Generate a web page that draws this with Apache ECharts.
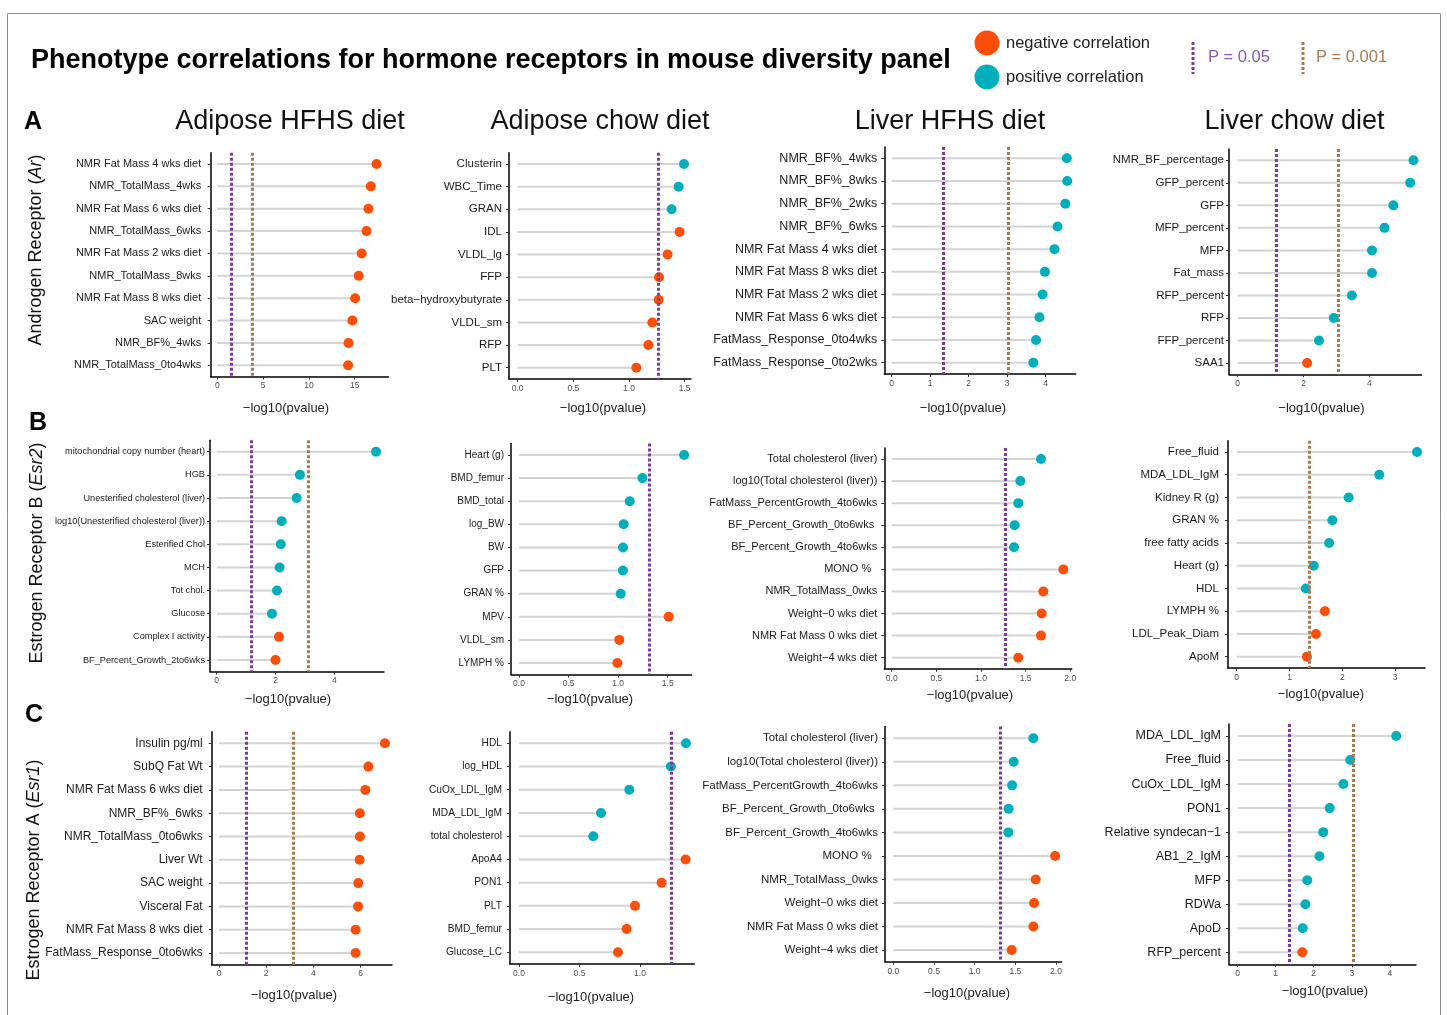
<!DOCTYPE html>
<html>
<head>
<meta charset="utf-8">
<script src="https://cdn.jsdelivr.net/npm/echarts@6/dist/echarts.min.js"></script>
<style>
  html, body { margin: 0; padding: 0; background: #fff; }
  #main { width: 1447px; height: 1015px; }
</style>
</head>
<body>
<div id="main"></div>
<script>
// ---- data (-log10 p values) ----
// dir: 'n' = negative correlation, 'p' = positive correlation
// cut: [P = 0.05 line, P = 0.001 line], null when the panel has no such line

// A: androgen receptor (Ar)
const adHfhsArLab = ['NMR Fat Mass 4 wks diet', 'NMR_TotalMass_4wks', 'NMR Fat Mass 6 wks diet', 'NMR_TotalMass_6wks', 'NMR Fat Mass 2 wks diet', 'NMR_TotalMass_8wks', 'NMR Fat Mass 8 wks diet', 'SAC weight', 'NMR_BF%_4wks', 'NMR_TotalMass_0to4wks'];
const adHfhsArVal = [17.38, 16.76, 16.5, 16.29, 15.77, 15.44, 15.05, 14.75, 14.32, 14.28];
const adHfhsArDir = ['n', 'n', 'n', 'n', 'n', 'n', 'n', 'n', 'n', 'n'];
const adHfhsArCut = [1.53, 3.77];

const adChowArLab = ['Clusterin', 'WBC_Time', 'GRAN', 'IDL', 'VLDL_lg', 'FFP', 'beta−hydroxybutyrate', 'VLDL_sm', 'RFP', 'PLT'];
const adChowArVal = [1.494, 1.446, 1.383, 1.455, 1.347, 1.27, 1.267, 1.21, 1.174, 1.066];
const adChowArDir = ['p', 'p', 'p', 'n', 'n', 'n', 'n', 'n', 'n', 'n'];
const adChowArCut = [1.264, null];

const lvHfhsArLab = ['NMR_BF%_4wks', 'NMR_BF%_8wks', 'NMR_BF%_2wks', 'NMR_BF%_6wks', 'NMR Fat Mass 4 wks diet', 'NMR Fat Mass 8 wks diet', 'NMR Fat Mass 2 wks diet', 'NMR Fat Mass 6 wks diet', 'FatMass_Response_0to4wks', 'FatMass_Response_0to2wks'];
const lvHfhsArVal = [4.55, 4.56, 4.51, 4.31, 4.23, 3.98, 3.92, 3.84, 3.75, 3.68];
const lvHfhsArDir = ['p', 'p', 'p', 'p', 'p', 'p', 'p', 'p', 'p', 'p'];
const lvHfhsArCut = [1.33, 3.04];

const lvChowArLab = ['NMR_BF_percentage', 'GFP_percent', 'GFP', 'MFP_percent', 'MFP', 'Fat_mass', 'RFP_percent', 'RFP', 'FFP_percent', 'SAA1'];
const lvChowArVal = [5.34, 5.24, 4.73, 4.46, 4.08, 4.08, 3.47, 2.92, 2.47, 2.11];
const lvChowArDir = ['p', 'p', 'p', 'p', 'p', 'p', 'p', 'p', 'p', 'n'];
const lvChowArCut = [1.16, 3.05];

// B: estrogen receptor B (Esr2)
const adHfhsEsr2Lab = ['mitochondrial copy number (heart)', 'HGB', 'Unesterified cholesterol (liver)', 'log10(Unesterified cholesterol (liver))', 'Esterified Chol', 'MCH', 'Tot chol.', 'Glucose', 'Complex I activity', 'BF_Percent_Growth_2to6wks'];
const adHfhsEsr2Val = [5.42, 2.83, 2.72, 2.21, 2.18, 2.14, 2.05, 1.88, 2.12, 2.0];
const adHfhsEsr2Dir = ['p', 'p', 'p', 'p', 'p', 'p', 'p', 'p', 'n', 'n'];
const adHfhsEsr2Cut = [1.16, 3.12];

const adChowEsr2Lab = ['Heart (g)', 'BMD_femur', 'BMD_total', 'log_BW', 'BW', 'GFP', 'GRAN %', 'MPV', 'VLDL_sm', 'LYMPH %'];
const adChowEsr2Val = [1.665, 1.245, 1.117, 1.056, 1.049, 1.048, 1.026, 1.51, 1.012, 0.992];
const adChowEsr2Dir = ['p', 'p', 'p', 'p', 'p', 'p', 'p', 'n', 'n', 'n'];
const adChowEsr2Cut = [1.312, null];

const lvHfhsEsr2Lab = ['Total cholesterol (liver)', 'log10(Total cholesterol (liver))', 'FatMass_PercentGrowth_4to6wks', 'BF_Percent_Growth_0to6wks ', 'BF_Percent_Growth_4to6wks', 'MONO %  ', 'NMR_TotalMass_0wks', 'Weight−0 wks diet', 'NMR Fat Mass 0 wks diet', 'Weight−4 wks diet'];
const lvHfhsEsr2Val = [1.672, 1.441, 1.418, 1.377, 1.37, 1.922, 1.698, 1.68, 1.672, 1.418];
const lvHfhsEsr2Dir = ['p', 'p', 'p', 'p', 'p', 'n', 'n', 'n', 'n', 'n'];
const lvHfhsEsr2Cut = [1.275, null];

const lvChowEsr2Lab = ['Free_fluid', 'MDA_LDL_IgM', 'Kidney R (g)', 'GRAN %', 'free fatty acids', 'Heart (g)', 'HDL', 'LYMPH %', 'LDL_Peak_Diam', 'ApoM'];
const lvChowEsr2Val = [3.415, 2.7, 2.12, 1.81, 1.75, 1.46, 1.31, 1.67, 1.5, 1.33];
const lvChowEsr2Dir = ['p', 'p', 'p', 'p', 'p', 'p', 'p', 'n', 'n', 'n'];
const lvChowEsr2Cut = [null, 1.38];

// C: estrogen receptor A (Esr1)
const adHfhsEsr1Lab = ['Insulin pg/ml', 'SubQ Fat Wt', 'NMR Fat Mass 6 wks diet', 'NMR_BF%_6wks', 'NMR_TotalMass_0to6wks', 'Liver Wt', 'SAC weight', 'Visceral Fat', 'NMR Fat Mass 8 wks diet', 'FatMass_Response_0to6wks'];
const adHfhsEsr1Val = [7.03, 6.33, 6.2, 5.97, 5.97, 5.96, 5.9, 5.89, 5.79, 5.79];
const adHfhsEsr1Dir = ['n', 'n', 'n', 'n', 'n', 'n', 'n', 'n', 'n', 'n'];
const adHfhsEsr1Cut = [1.17, 3.15];

const adChowEsr1Lab = ['HDL', 'log_HDL', 'CuOx_LDL_IgM', 'MDA_LDL_IgM', 'total cholesterol', 'ApoA4', 'PON1', 'PLT', 'BMD_femur', 'Glucose_LC'];
const adChowEsr1Val = [1.38, 1.256, 0.912, 0.678, 0.614, 1.377, 1.179, 0.959, 0.89, 0.818];
const adChowEsr1Dir = ['p', 'p', 'p', 'p', 'p', 'n', 'n', 'n', 'n', 'n'];
const adChowEsr1Cut = [1.262, null];

const lvHfhsEsr1Lab = ['Total cholesterol (liver)', 'log10(Total cholesterol (liver))', 'FatMass_PercentGrowth_4to6wks', 'BF_Percent_Growth_0to6wks ', 'BF_Percent_Growth_4to6wks', 'MONO %  ', 'NMR_TotalMass_0wks', 'Weight−0 wks diet', 'NMR Fat Mass 0 wks diet', 'Weight−4 wks diet'];
const lvHfhsEsr1Val = [1.722, 1.48, 1.46, 1.418, 1.414, 1.989, 1.751, 1.73, 1.722, 1.455];
const lvHfhsEsr1Dir = ['p', 'p', 'p', 'p', 'p', 'n', 'n', 'n', 'n', 'n'];
const lvHfhsEsr1Cut = [1.324, null];

const lvChowEsr1Lab = ['MDA_LDL_IgM', 'Free_fluid', 'CuOx_LDL_IgM', 'PON1', 'Relative syndecan−1', 'AB1_2_IgM', 'MFP', 'RDWa', 'ApoD', 'RFP_percent'];
const lvChowEsr1Val = [4.17, 2.96, 2.78, 2.42, 2.25, 2.15, 1.83, 1.78, 1.71, 1.7];
const lvChowEsr1Dir = ['p', 'p', 'p', 'p', 'p', 'p', 'p', 'p', 'p', 'n'];
const lvChowEsr1Cut = [1.35, 3.03];

// x tick labels
const ticks15 = [0, 5, 10, 15];
const ticks6 = [0, 2, 4, 6];
const ticks4 = [0, 1, 2, 3, 4];
const ticks4by2 = [0, 2, 4];
const ticks3 = [0, 1, 2, 3];
const ticks2 = [0, 0.5, 1, 1.5, 2];
const ticks15dec = [0, 0.5, 1, 1.5];
const ticks1dec = [0, 0.5, 1];

const panels = [
  { lab: adHfhsArLab, val: adHfhsArVal, dir: adHfhsArDir, cut: adHfhsArCut, ticks: ticks15, dec: 0 },
  { lab: adChowArLab, val: adChowArVal, dir: adChowArDir, cut: adChowArCut, ticks: ticks15dec, dec: 1 },
  { lab: lvHfhsArLab, val: lvHfhsArVal, dir: lvHfhsArDir, cut: lvHfhsArCut, ticks: ticks4, dec: 0 },
  { lab: lvChowArLab, val: lvChowArVal, dir: lvChowArDir, cut: lvChowArCut, ticks: ticks4by2, dec: 0 },
  { lab: adHfhsEsr2Lab, val: adHfhsEsr2Val, dir: adHfhsEsr2Dir, cut: adHfhsEsr2Cut, ticks: ticks4by2, dec: 0 },
  { lab: adChowEsr2Lab, val: adChowEsr2Val, dir: adChowEsr2Dir, cut: adChowEsr2Cut, ticks: ticks15dec, dec: 1 },
  { lab: lvHfhsEsr2Lab, val: lvHfhsEsr2Val, dir: lvHfhsEsr2Dir, cut: lvHfhsEsr2Cut, ticks: ticks2, dec: 1 },
  { lab: lvChowEsr2Lab, val: lvChowEsr2Val, dir: lvChowEsr2Dir, cut: lvChowEsr2Cut, ticks: ticks3, dec: 0 },
  { lab: adHfhsEsr1Lab, val: adHfhsEsr1Val, dir: adHfhsEsr1Dir, cut: adHfhsEsr1Cut, ticks: ticks6, dec: 0 },
  { lab: adChowEsr1Lab, val: adChowEsr1Val, dir: adChowEsr1Dir, cut: adChowEsr1Cut, ticks: ticks1dec, dec: 1 },
  { lab: lvHfhsEsr1Lab, val: lvHfhsEsr1Val, dir: lvHfhsEsr1Dir, cut: lvHfhsEsr1Cut, ticks: ticks2, dec: 1 },
  { lab: lvChowEsr1Lab, val: lvChowEsr1Val, dir: lvChowEsr1Dir, cut: lvChowEsr1Cut, ticks: ticks4, dec: 0 }
];

// ---- layout (pixels) and axis extents per panel ----
// left/right: x of axis ends, first/last: y of first and last row
const layout = [
  { left: 210.7, right: 388.3, min: -0.72, max: 18.67, first: 164, last: 365.3, nameX: 286, nameY: 408, font: 11, gap: 9.5 },
  { left: 509, right: 691, min: -0.078, max: 1.557, first: 164, last: 367.7, nameX: 603, nameY: 408, font: 11.5, gap: 7 },
  { left: 884.3, right: 1075.7, min: -0.19, max: 4.78, first: 158.3, last: 362.7, nameX: 963, nameY: 408, font: 12.5, gap: 7 },
  { left: 1229, right: 1421.7, min: -0.264, max: 5.59, first: 160.3, last: 363, nameX: 1321.5, nameY: 408, font: 11.5, gap: 5 },
  { left: 210, right: 384, min: -0.228, max: 5.69, first: 451.7, last: 660, nameX: 288, nameY: 699, font: 9.2, gap: 5 },
  { left: 511, right: 691.7, min: -0.081, max: 1.742, first: 455, last: 663, nameX: 590, nameY: 699, font: 10, gap: 7 },
  { left: 884.3, right: 1071.7, min: -0.083, max: 2.016, first: 459, last: 657.7, nameX: 970, nameY: 695, font: 11, gap: 7 },
  { left: 1228, right: 1425, min: -0.165, max: 3.566, first: 452, last: 656.7, nameX: 1321, nameY: 694, font: 11.5, gap: 9 },
  { left: 211.7, right: 392, min: -0.31, max: 7.33, first: 743.3, last: 953, nameX: 294, nameY: 995, font: 12, gap: 9 },
  { left: 510, right: 694.3, min: -0.074, max: 1.449, first: 743.3, last: 952.3, nameX: 591, nameY: 997, font: 10.2, gap: 8 },
  { left: 885, right: 1061.7, min: -0.102, max: 2.07, first: 738.3, last: 950, nameX: 967, nameY: 993, font: 11.5, gap: 7 },
  { left: 1229, right: 1416, min: -0.229, max: 4.69, first: 736, last: 952.3, nameX: 1325, nameY: 991, font: 12.5, gap: 8 }
];

const FONT = '"Liberation Sans", Arial, Helvetica, sans-serif';
const NEG_COL = '#FC4E07';
const POS_COL = '#00AFBB';
const P05_COL = '#7D3C98';
const P001_COL = '#A67B4F';
const STEM_COL = '#D4D4D4';

function txt(x, y, s, size, opt) {
  opt = opt || {};
  return {
    type: 'text', x: x, y: y, rotation: opt.rot || 0, silent: true, z: 10,
    style: {
      text: s, fontSize: size, fontFamily: FONT,
      fontWeight: opt.weight || 'normal', fill: opt.color || '#111',
      textAlign: opt.align || 'left', textVerticalAlign: 'middle',
      rich: opt.rich
    }
  };
}

let grids = [], xAxes = [], yAxes = [], series = [], graphics = [];

panels.forEach(function (p, i) {
  let g = layout[i];
  let n = p.lab.length;
  let band = (g.last - g.first) / (n - 1);

  grids.push({ left: g.left, top: g.first - band / 2, width: g.right - g.left, height: band * n });

  xAxes.push({
    gridIndex: i, type: 'value', min: g.min, max: g.max,
    splitLine: { show: false },
    axisLine: { show: true, onZero: false, lineStyle: { color: '#000', width: 1.5 } },
    axisTick: { show: true, length: 3, customValues: p.ticks, lineStyle: { color: '#333' } },
    axisLabel: {
      customValues: p.ticks, fontSize: 8.5, color: '#4d4d4d', margin: 5, fontFamily: FONT,
      formatter: function (v) { return v.toFixed(p.dec); }
    }
  });

  yAxes.push({
    gridIndex: i, type: 'category', data: p.lab, inverse: true,
    axisLine: { show: true, onZero: false, lineStyle: { color: '#000', width: 1.5 } },
    axisTick: { show: true, length: 3, alignWithLabel: true, lineStyle: { color: '#333' } },
    axisLabel: { interval: 0, fontSize: g.font, color: '#1a1a1a', margin: g.gap, fontFamily: FONT }
  });

  // grey stems from 0
  series.push({
    type: 'bar', xAxisIndex: i, yAxisIndex: i, data: p.val, barWidth: 2,
    itemStyle: { color: STEM_COL }, silent: true, z: 2
  });

  // dots
  series.push({
    type: 'scatter', xAxisIndex: i, yAxisIndex: i, symbolSize: 10, z: 3, silent: true,
    data: p.val.map(function (v, k) {
      return { value: [v, k], itemStyle: { color: p.dir[k] === 'n' ? NEG_COL : POS_COL, opacity: 1 } };
    })
  });

  // significance lines
  let marks = [];
  if (p.cut[0] != null) marks.push({ xAxis: p.cut[0], lineStyle: { color: P05_COL } });
  if (p.cut[1] != null) marks.push({ xAxis: p.cut[1], lineStyle: { color: P001_COL } });
  series.push({
    type: 'scatter', xAxisIndex: i, yAxisIndex: i, data: [], z: 4,
    markLine: {
      symbol: ['none', 'none'], silent: true, label: { show: false },
      lineStyle: { width: 3, type: [3, 2] },
      data: marks
    }
  });

  graphics.push(txt(g.nameX, g.nameY, '−log10(pvalue)', 13, { align: 'center', color: '#222' }));
});

// frame, title, legend
graphics.push({
  type: 'rect', silent: true,
  shape: { x: 7.5, y: 13.5, width: 1433, height: 1020 },
  style: { fill: 'none', stroke: '#8c8c8c', lineWidth: 1 }
});
graphics.push(txt(31, 61, 'Phenotype correlations for hormone receptors in mouse diversity panel', 27, { weight: 'bold', color: '#000' }));

graphics.push({ type: 'circle', silent: true, shape: { cx: 987, cy: 43, r: 12.5 }, style: { fill: NEG_COL } });
graphics.push({ type: 'circle', silent: true, shape: { cx: 987, cy: 77, r: 12.5 }, style: { fill: POS_COL } });
graphics.push(txt(1006, 43, 'negative correlation', 16.5, { color: '#222' }));
graphics.push(txt(1006, 77, 'positive correlation', 16.5, { color: '#222' }));

graphics.push({ type: 'line', silent: true, shape: { x1: 1193, y1: 42, x2: 1193, y2: 74 }, style: { stroke: P05_COL, lineWidth: 3, lineDash: [3, 2] } });
graphics.push({ type: 'line', silent: true, shape: { x1: 1303, y1: 42, x2: 1303, y2: 74 }, style: { stroke: P001_COL, lineWidth: 3, lineDash: [3, 2] } });
graphics.push(txt(1208, 57, 'P = 0.05', 16.5, { color: '#8E5AAE' }));
graphics.push(txt(1316, 57, 'P = 0.001', 16.5, { color: '#A67B4F' }));

// column titles
graphics.push(txt(290, 122, 'Adipose HFHS diet', 27, { align: 'center' }));
graphics.push(txt(600, 122, 'Adipose chow diet', 27, { align: 'center' }));
graphics.push(txt(950, 122, 'Liver HFHS diet', 27, { align: 'center' }));
graphics.push(txt(1294.5, 122, 'Liver chow diet', 27, { align: 'center' }));

// row letters
graphics.push(txt(33, 122, 'A', 25, { align: 'center', weight: 'bold', color: '#000' }));
graphics.push(txt(38, 423, 'B', 25, { align: 'center', weight: 'bold', color: '#000' }));
graphics.push(txt(34, 715, 'C', 25, { align: 'center', weight: 'bold', color: '#000' }));

// rotated row labels with italic gene names
function rowLabel(x, y, name, gene) {
  let rich = {
    n: { fontSize: 18, fontFamily: FONT, fill: '#111' },
    i: { fontSize: 18, fontFamily: FONT, fontStyle: 'italic', fill: '#111' }
  };
  return txt(x, y, '{n|' + name + ' (}{i|' + gene + '}{n|)}', 18, { align: 'center', rot: Math.PI / 2, rich: rich });
}
graphics.push(rowLabel(36, 250, 'Androgen Receptor', 'Ar'));
graphics.push(rowLabel(37, 553, 'Estrogen Receptor B', 'Esr2'));
graphics.push(rowLabel(34, 870, 'Estrogen Receptor A', 'Esr1'));

const chart = echarts.init(document.getElementById('main'), null, { renderer: 'canvas' });
chart.setOption({
  animation: false,
  backgroundColor: '#fff',
  grid: grids,
  xAxis: xAxes,
  yAxis: yAxes,
  series: series,
  graphic: graphics
});
</script>
</body>
</html>
